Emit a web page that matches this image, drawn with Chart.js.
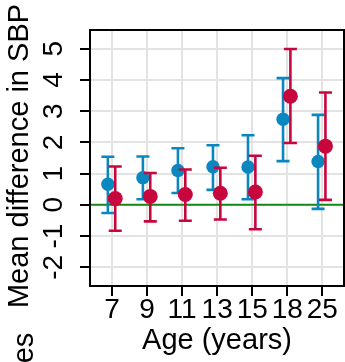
<!DOCTYPE html>
<html lang="en">
<head>
<meta charset="UTF-8">
<title>Mean difference in SBP by age</title>
<script src="https://cdn.jsdelivr.net/npm/chart.js"></script>
<style>
  html, body { margin: 0; padding: 0; background: white; overflow: hidden; }
  #wrap { width: 345px; height: 362px; position: relative; }
</style>
</head>
<body>
<div id="wrap"><canvas id="sbpChart"></canvas></div>
<script>
// data
const ages = ['7', '9', '11', '13', '15', '18', '25'];
const yTicks = [-2, -1, 0, 1, 2, 3, 4, 5];

const blueMean  = [0.66, 0.87, 1.10, 1.22, 1.21, 2.74, 1.39];
const blueLower = [-0.26, 0.18, 0.38, 0.48, 0.18, 1.40, -0.13];
const blueUpper = [1.54, 1.55, 1.81, 1.91, 2.23, 4.06, 2.88];

const redMean  = [0.20, 0.27, 0.33, 0.37, 0.41, 3.48, 1.88];
const redLower = [-0.83, -0.53, -0.51, -0.47, -0.78, 1.98, 0.16];
const redUpper = [1.23, 1.02, 1.13, 1.19, 1.57, 4.99, 3.60];

const BLUE = '#0b87bf';
const RED = '#c8063e';
const FONT = '"Liberation Sans", Arial, sans-serif';

function pts(means, shift) {
    return means.map((v, i) => ({ x: i + shift, y: v }));
}

// error bars, drawn just before each dataset's points
const errorBars = {
    id: 'errorBars',
    beforeDatasetDraw(chart, args) {
        const ds = chart.data.datasets[args.index];
        const xs = chart.scales.x, ys = chart.scales.y;
        const ctx = chart.ctx;
        ctx.save();
        ctx.strokeStyle = ds.borderColor;
        ctx.lineWidth = 2.6;
        ds.lower.forEach((lo, i) => {
            const x = xs.getPixelForValue(ds.data[i].x);
            const y1 = ys.getPixelForValue(lo);
            const y2 = ys.getPixelForValue(ds.upper[i]);
            ctx.beginPath();
            ctx.moveTo(x, y1); ctx.lineTo(x, y2);
            ctx.moveTo(x - 6.5, y1); ctx.lineTo(x + 6.5, y1);
            ctx.moveTo(x - 6.5, y2); ctx.lineTo(x + 6.5, y2);
            ctx.stroke();
        });
        ctx.restore();
    }
};

// zero line, frame, rotated labels and titles
const decor = {
    id: 'decor',
    beforeDatasetsDraw(chart) {
        const { ctx, chartArea: a, scales: { y } } = chart;
        const y0 = y.getPixelForValue(0);
        ctx.save();
        ctx.strokeStyle = '#168a16';
        ctx.lineWidth = 2;
        ctx.beginPath();
        ctx.moveTo(a.left, y0); ctx.lineTo(a.right, y0);
        ctx.stroke();
        ctx.restore();
    },
    afterDraw(chart) {
        const { ctx, chartArea: a, scales: { x, y } } = chart;
        ctx.save();
        ctx.strokeStyle = 'black';
        ctx.lineWidth = 2;
        ctx.strokeRect(a.left, a.top, a.right - a.left, a.bottom - a.top);

        ctx.fillStyle = 'black';
        ctx.font = '28px ' + FONT;
        ctx.textAlign = 'center';
        ctx.textBaseline = 'middle';
        ages.forEach((lab, i) => {
            ctx.fillText(lab, x.getPixelForValue(i), 310);
        });
        ctx.font = '29px ' + FONT;
        ctx.fillText('Age (years)', (a.left + a.right) / 2, 341);

        yTicks.forEach(v => {
            ctx.save();
            ctx.translate(54, y.getPixelForValue(v));
            ctx.rotate(-Math.PI / 2);
            ctx.font = '28px ' + FONT;
            ctx.fillText(String(v), 0, 0);
            ctx.restore();
        });

        ctx.save();
        ctx.translate(20, 156);
        ctx.rotate(-Math.PI / 2);
        ctx.font = '29px ' + FONT;
        ctx.fillText('Mean difference in SBP', 0, 0);
        ctx.restore();

        ctx.save();
        ctx.translate(25, 348);
        ctx.rotate(-Math.PI / 2);
        ctx.font = '29px ' + FONT;
        ctx.fillText('es', 0, 0);
        ctx.restore();
        ctx.restore();
    }
};

new Chart(document.getElementById('sbpChart'), {
    type: 'scatter',
    data: {
        datasets: [
            {
                label: 'Series 1',
                data: pts(blueMean, -0.12),
                lower: blueLower,
                upper: blueUpper,
                borderColor: BLUE,
                backgroundColor: BLUE,
                pointRadius: 6.7,
                pointBorderWidth: 0,
                order: 2
            },
            {
                label: 'Series 2',
                data: pts(redMean, 0.09),
                lower: redLower,
                upper: redUpper,
                borderColor: RED,
                backgroundColor: RED,
                pointRadius: 7.5,
                pointBorderWidth: 0,
                order: 1
            }
        ]
    },
    options: {
        responsive: true,
        maintainAspectRatio: false,
        animation: false,
        layout: { autoPadding: false, padding: { left: 80, top: 30, right: 1, bottom: 66 } },
        plugins: { legend: { display: false }, tooltip: { enabled: false } },
        scales: {
            x: {
                type: 'linear',
                min: -0.63,
                max: 6.62,
                ticks: { display: false, stepSize: 1, includeBounds: false },
                grid: { color: '#e3e3e3', lineWidth: 2, tickColor: 'black', tickLength: 10 },
                border: { display: false }
            },
            y: {
                min: -2.6,
                max: 5.6,
                ticks: { display: false, stepSize: 1, includeBounds: false },
                grid: { color: '#e3e3e3', lineWidth: 2, tickColor: 'black', tickLength: 10 },
                border: { display: false }
            }
        }
    },
    plugins: [errorBars, decor]
});
</script>
</body>
</html>
